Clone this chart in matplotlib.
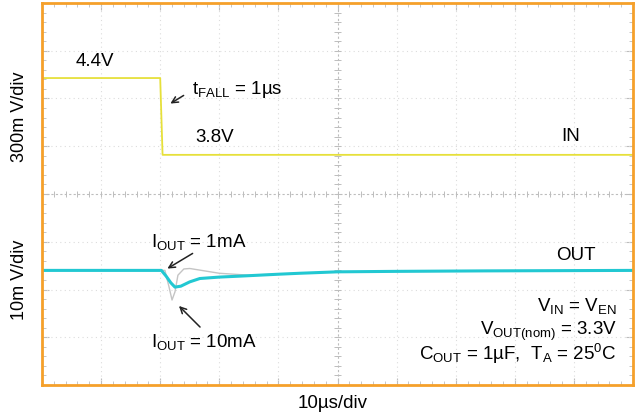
import numpy as np
import matplotlib
matplotlib.use("Agg")
from matplotlib import pyplot as plt
from matplotlib.patches import FancyArrowPatch

plt.rcParams['font.family'] = ['Liberation Sans', 'DejaVu Sans']
plt.rcParams['mathtext.fontset'] = 'custom'
plt.rcParams['mathtext.rm'] = 'Liberation Sans'
plt.rcParams['mathtext.it'] = 'Liberation Sans'

# time in us (10us/div, 10 divisions)
in_time = [0, 20.0, 20.4, 100]
in_volts = [4.4, 4.4, 3.8, 3.8]

# output deviation in mV
out_time_1ma = [0, 20.2, 21.0, 21.8, 22.5, 23.5, 25.0, 26.7, 30.0, 33.5, 40.0, 43.6, 50.0, 60.0, 75.0, 100]
out_1ma = [0, 0, -1.2, -2.6, -3.5, -3.3, -2.4, -1.7, -1.4, -1.2, -0.8, -0.6, -0.3, -0.2, -0.1, 0]
out_time_10ma = [0, 20.8, 21.5, 22.0, 22.5, 23.0, 24.0, 25.0, 27.0, 30.0, 35.0, 50.0, 100]
out_10ma = [0, 0, -3.5, -6.2, -4.5, -1.0, 0.3, 0.4, 0.0, -0.6, -1.0, -0.3, 0]

# screen positions (divisions from bottom)
in_zero_div = 4.82      # where 3.8V sits
in_scale = 0.373        # V per div as drawn
out_zero_div = 2.40
out_scale = 10.0        # mV per div

orange = '#F5A02A'
yellow = '#E6E03A'
cyan = '#22C8D2'

fig = plt.figure(figsize=(6.35, 4.19), dpi=100)
ax = fig.add_axes([42 / 635, 34 / 419, 591 / 635, 382 / 419])
ax.set_xlim(0, 100)
ax.set_ylim(0, 8)

# scope graticule
for gx in np.arange(10, 100, 10):
    if gx != 50:
        ax.axvline(gx, color='#dcdcdc', lw=0.8, ls=(0, (1, 3)))
for gy in np.arange(1, 8):
    if gy != 4:
        ax.axhline(gy, color='#dcdcdc', lw=0.8, ls=(0, (1, 3)))
ax.axvline(50, color='#bdbdbd', lw=0.8, ls=(0, (2, 2)))
ax.axhline(4, color='#bdbdbd', lw=0.8, ls=(0, (2, 2)))
ax.vlines(np.arange(0, 100, 2), 3.93, 4.07, color='#bdbdbd', lw=0.7)
ax.hlines(np.arange(0, 8, 0.2), 49.4, 50.6, color='#bdbdbd', lw=0.7)

ax.set_xticks(np.arange(0, 101, 10))
ax.set_yticks(np.arange(0, 9, 1))
ax.set_xticks(np.arange(0, 101, 2), minor=True)
ax.set_yticks(np.arange(0, 8.01, 0.2), minor=True)
ax.tick_params(which='both', direction='in', top=True, right=True,
               labelbottom=False, labelleft=False, color='#bdbdbd')
ax.tick_params(which='major', length=5)
ax.tick_params(which='minor', length=3)
for sp in ax.spines.values():
    sp.set_color(orange)
    sp.set_linewidth(2)

# traces
in_div = [in_zero_div + (v - 3.8) / in_scale for v in in_volts]
ax.plot(in_time, in_div, color=yellow, lw=1.3)
ax.plot(out_time_10ma, [out_zero_div + v / out_scale for v in out_10ma], color='#c4c4c4', lw=1.0)
ax.plot(out_time_1ma, [out_zero_div + v / out_scale for v in out_1ma], color=cyan, lw=2.2)

# labels
fs = 13.5


def px(x, y):
    return (x / 635, 1 - y / 419)


fig.text(*px(20, 117), '300m V/div', rotation=90, ha='center', va='center', fontsize=13)
fig.text(*px(20, 280), '10m V/div', rotation=90, ha='center', va='center', fontsize=13)
fig.text(*px(333, 403), '10µs/div', ha='center', va='center', fontsize=fs)

fig.text(*px(76, 62), '4.4V', va='center', fontsize=fs)
fig.text(*px(192, 90), r't$_{\mathrm{FALL}}$ = 1µs', va='center', fontsize=fs)
fig.text(*px(195, 138), '3.8V', va='center', fontsize=fs)
fig.text(*px(561, 136), 'IN', va='center', fontsize=fs)
fig.text(*px(151, 242), r'I$_{\mathrm{OUT}}$ = 1mA', va='center', fontsize=fs)
fig.text(*px(151, 342), r'I$_{\mathrm{OUT}}$ = 10mA', va='center', fontsize=fs)
fig.text(*px(556, 255), 'OUT', va='center', fontsize=fs)
fig.text(*px(617, 306), r'V$_{\mathrm{IN}}$ = V$_{\mathrm{EN}}$', ha='right', va='center', fontsize=fs)
fig.text(*px(617, 331), r'V$_{\mathrm{OUT(nom)}}$ = 3.3V', ha='right', va='center', fontsize=fs)
fig.text(*px(617, 354), r'C$_{\mathrm{OUT}}$ = 1µF,  T$_{\mathrm{A}}$ = 25$^{0}$C', ha='right', va='center', fontsize=fs)

for start, end in [((186, 94), (168, 105)), ((195, 252), (165, 270)), ((202, 329), (177, 304))]:
    fig.add_artist(FancyArrowPatch(px(*start), px(*end), transform=fig.transFigure,
                                   arrowstyle='->', mutation_scale=11, color='#222222', lw=1.1))

fig.savefig('out.png', dpi=100)
